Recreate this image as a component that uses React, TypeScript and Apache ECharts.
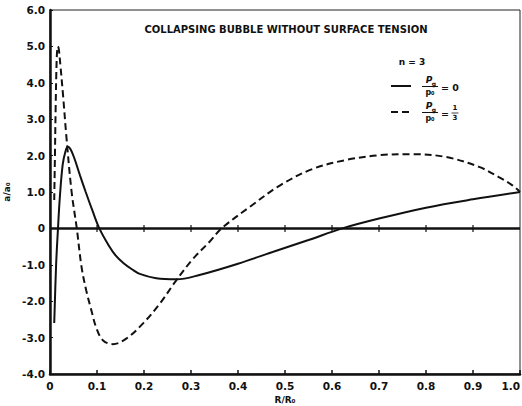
import React, { useEffect, useRef } from "react";
import * as echarts from "echarts";

const titleText = "COLLAPSING BUBBLE WITHOUT SURFACE TENSION";

// p_g / p_0 = 0 (solid)
const solidX = [0.009, 0.013, 0.017, 0.021, 0.027, 0.033, 0.038, 0.044, 0.052, 0.064, 0.076, 0.09, 0.105, 0.125, 0.14, 0.156, 0.175, 0.191, 0.226, 0.269, 0.318, 0.4, 0.48, 0.55, 0.622, 0.7, 0.8, 0.9, 1.0];
const solidY = [-2.6, -1.0, 0, 0.87, 1.75, 2.12, 2.24, 2.17, 1.92, 1.45, 1.0, 0.5, 0, -0.47, -0.75, -0.95, -1.13, -1.25, -1.37, -1.4, -1.28, -0.97, -0.62, -0.32, 0, 0.27, 0.57, 0.8, 1.0];

// p_g / p_0 = 1/3 (dashed)
const dashX = [0.009, 0.0105, 0.012, 0.0135, 0.015, 0.017, 0.019, 0.022, 0.028, 0.035, 0.046, 0.057, 0.067, 0.077, 0.087, 0.099, 0.113, 0.134, 0.163, 0.198, 0.234, 0.269, 0.304, 0.34, 0.365, 0.425, 0.488, 0.558, 0.63, 0.7, 0.771, 0.843, 0.913, 0.955, 0.983, 1.0];
const dashY = [0.78, 2.0, 3.3, 4.3, 4.85, 5.0, 4.9, 4.5, 3.62, 2.5, 1.0, 0, -1.05, -1.7, -2.2, -2.75, -3.08, -3.18, -3.02, -2.61, -2.06, -1.42, -0.84, -0.36, 0, 0.59, 1.17, 1.63, 1.88, 2.01, 2.04, 1.96, 1.69, 1.41, 1.19, 1.0];

const zeroTicks = [0.1, 0.2, 0.3, 0.4, 0.5, 0.6, 0.7, 0.8, 0.9];

const FONT = "DejaVu Sans";

export default function App() {
  const ref = useRef<HTMLDivElement>(null);
  useEffect(() => {
    if (!ref.current) return;
    const chart = echarts.init(ref.current, null, { renderer: "svg" });
    const lbl = { fontFamily: FONT, fontWeight: "bold", fontSize: 10.5, color: "#111" };
    chart.setOption({
      animation: false,
      backgroundColor: "#fff",
      grid: { left: 50, right: 2, top: 10, bottom: 32, show: true, borderColor: "#222", borderWidth: 1, containLabel: false, outerBoundsMode: "none" },
      xAxis: {
        type: "value",
        min: 0,
        max: 1,
        interval: 0.1,
        name: "R/R\u2080",
        nameLocation: "middle",
        nameGap: 19,
        nameTextStyle: { ...lbl, fontSize: 9 },
        axisLine: { show: true, onZero: false, lineStyle: { color: "#111", width: 2.5 } },
        axisTick: { show: true, inside: true, length: 4, lineStyle: { color: "#111", width: 1.5 } },
        axisLabel: { ...lbl, margin: 6, alignMaxLabel: "right", formatter: (v: number) => (v === 0 ? "0" : v.toFixed(1)) },
        splitLine: { show: false },
      },
      yAxis: {
        type: "value",
        min: -4,
        max: 6,
        interval: 1,
        name: "a/a\u2080",
        nameLocation: "middle",
        nameGap: 36,
        nameTextStyle: { ...lbl, fontSize: 9 },
        axisLine: { show: true, onZero: false, lineStyle: { color: "#111", width: 2.5 } },
        axisTick: { show: true, inside: true, length: 3, lineStyle: { color: "#111", width: 1 } },
        axisLabel: { ...lbl, margin: 5, formatter: (v: number) => (v === 0 ? "0" : v.toFixed(1)) },
        splitLine: { show: false },
      },
      series: [
        {
          type: "line",
          name: "solid",
          data: solidX.map((x, i) => [x, solidY[i]]),
          smooth: 0.35,
          showSymbol: false,
          symbol: "none",
          lineStyle: { color: "#111", width: 2 },
          markLine: {
            silent: true,
            symbol: "none",
            label: { show: false },
            lineStyle: { color: "#111", width: 2.5, type: "solid" },
            data: [{ yAxis: 0 }],
          },
          z: 3,
        },
        {
          type: "line",
          name: "dashed",
          data: dashX.map((x, i) => [x, dashY[i]]),
          smooth: 0.35,
          showSymbol: false,
          symbol: "none",
          lineStyle: { color: "#111", width: 2, type: [7, 4] },
          z: 3,
        },
        {
          type: "scatter",
          data: zeroTicks.map((x) => [x, 0]),
          symbol: "rect",
          symbolSize: [1.5, 7],
          itemStyle: { color: "#111" },
          silent: true,
        },
      ],
      graphic: [
        {
          type: "text",
          x: 286,
          y: 29,
          style: { text: titleText, fontFamily: FONT, fontWeight: "bold", fontSize: 10, fill: "#111", align: "center", verticalAlign: "middle" },
        },
        {
          type: "text",
          x: 412,
          y: 62,
          style: { text: "n = 3", fontFamily: FONT, fontWeight: "bold", fontSize: 9, fill: "#111", align: "center", verticalAlign: "middle" },
        },
        { type: "line", shape: { x1: 391, y1: 86, x2: 411, y2: 86 }, style: { stroke: "#111", lineWidth: 2 } },
        { type: "line", shape: { x1: 391, y1: 112, x2: 411, y2: 112 }, style: { stroke: "#111", lineWidth: 2, lineDash: [7, 4] } },
        // fraction 1
        { type: "text", x: 429, y: 80, style: { text: "P", fontFamily: FONT, fontStyle: "italic", fontWeight: "bold", fontSize: 9, fill: "#111", align: "center", verticalAlign: "middle" } },
        { type: "text", x: 434, y: 83, style: { text: "g", fontFamily: FONT, fontWeight: "bold", fontSize: 6, fill: "#111", align: "center", verticalAlign: "middle" } },
        { type: "line", shape: { x1: 422, y1: 86.5, x2: 438, y2: 86.5 }, style: { stroke: "#111", lineWidth: 1 } },
        { type: "text", x: 430, y: 92, style: { text: "p\u2080", fontFamily: FONT, fontWeight: "bold", fontSize: 8, fill: "#111", align: "center", verticalAlign: "middle" } },
        { type: "text", x: 441, y: 87, style: { text: "= 0", fontFamily: FONT, fontWeight: "bold", fontSize: 9.5, fill: "#111", align: "left", verticalAlign: "middle" } },
        // fraction 2
        { type: "text", x: 429, y: 106, style: { text: "P", fontFamily: FONT, fontStyle: "italic", fontWeight: "bold", fontSize: 9, fill: "#111", align: "center", verticalAlign: "middle" } },
        { type: "text", x: 434, y: 109, style: { text: "g", fontFamily: FONT, fontWeight: "bold", fontSize: 6, fill: "#111", align: "center", verticalAlign: "middle" } },
        { type: "line", shape: { x1: 422, y1: 112.5, x2: 438, y2: 112.5 }, style: { stroke: "#111", lineWidth: 1 } },
        { type: "text", x: 430, y: 118, style: { text: "p\u2080", fontFamily: FONT, fontWeight: "bold", fontSize: 8, fill: "#111", align: "center", verticalAlign: "middle" } },
        { type: "text", x: 441, y: 113, style: { text: "=", fontFamily: FONT, fontWeight: "bold", fontSize: 9.5, fill: "#111", align: "left", verticalAlign: "middle" } },
        { type: "text", x: 455, y: 108, style: { text: "1", fontFamily: FONT, fontWeight: "bold", fontSize: 7, fill: "#111", align: "center", verticalAlign: "middle" } },
        { type: "line", shape: { x1: 451.5, y1: 113, x2: 458.5, y2: 113 }, style: { stroke: "#111", lineWidth: 0.8 } },
        { type: "text", x: 455, y: 118, style: { text: "3", fontFamily: FONT, fontWeight: "bold", fontSize: 7, fill: "#111", align: "center", verticalAlign: "middle" } },
      ],
    });
    return () => chart.dispose();
  }, []);
  return <div ref={ref} style={{ width: 522, height: 406, position: "absolute", left: 0, top: 0 }} />;
}
